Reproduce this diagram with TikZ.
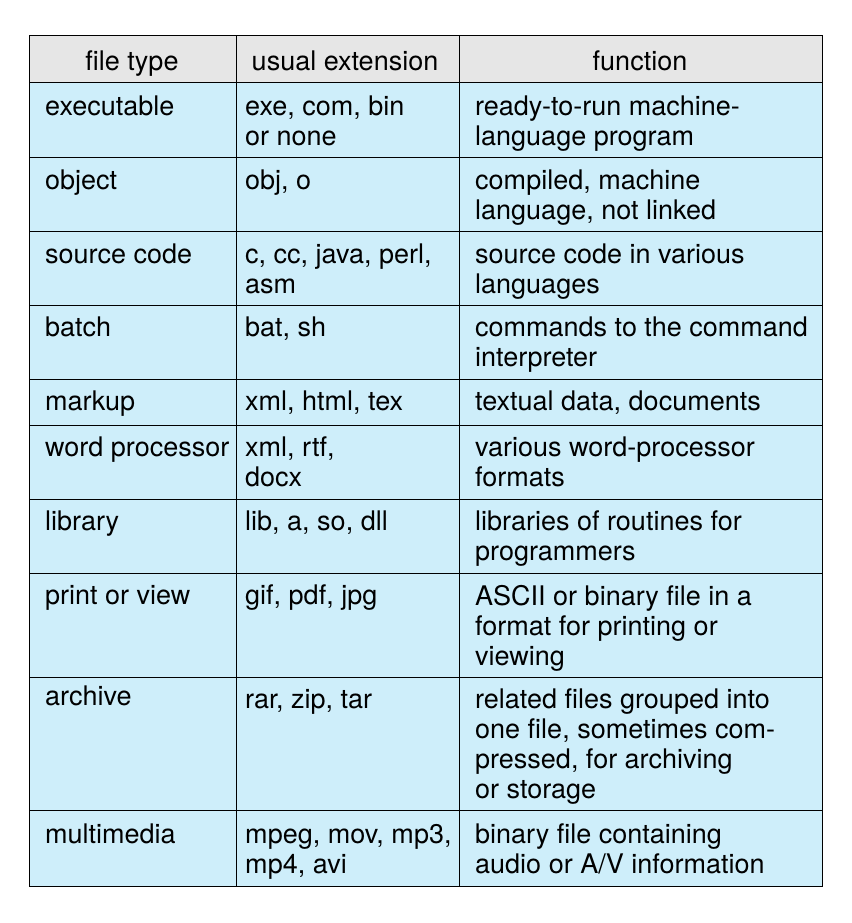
\documentclass[tikz,border=0pt]{standalone}
\usepackage{fontspec}
\setmainfont{TeX Gyre Heros}
\definecolor{cellblue}{RGB}{206,238,250}
\definecolor{headgray}{RGB}{230,230,230}
\begin{document}
\begin{tikzpicture}[x=1pt,y=-1pt,
		cell/.style={anchor=north west, inner sep=0pt, align=left, font=\fontsize{27}{30}\selectfont},
		head/.style={anchor=base, inner sep=0pt, font=\fontsize{27}{30}\selectfont}
		]
		\useasboundingbox (0,0) rectangle (851,923);
		
		% Backgrounds
		\fill[headgray] (29,36) rectangle (822,83);
		\fill[cellblue] (29,83) rectangle (822,886);
		
		% Grid
		\draw[line width=1pt] (29,36) rectangle (822,886);
		\draw[line width=1pt] (236,36) -- (236,886) (459,36) -- (459,886);
		\foreach \y in {83,157,231,305,379,425,499,573,677,810}
		\draw[line width=1pt] (29,\y) -- (822,\y);
		
		% Header
		\node[head] (h-type) at (132,71) {file type};
		\node[head] (h-ext) at (345,71) {usual extension};
		\node[head] (h-fun) at (640,71) {function};
		
		% Rows
		\node[cell] (t1) at (45,96) {executable};
		\node[cell] (e1) at (245,96) {exe, com, bin\\or none};
		\node[cell] (f1) at (475,96) {ready-to-run machine-\\language program};
		
		\node[cell] (t2) at (45,170) {object};
		\node[cell] (e2) at (245,170) {obj, o};
		\node[cell] (f2) at (475,170) {compiled, machine\\language, not linked};
		
		\node[cell] (t3) at (45,244) {source code};
		\node[cell] (e3) at (245,244) {c, cc, java, perl,\\asm};
		\node[cell] (f3) at (475,244) {source code in various\\languages};
		
		\node[cell] (t4) at (45,317) {batch};
		\node[cell] (e4) at (245,317) {bat, sh};
		\node[cell] (f4) at (475,317) {commands to the command\\interpreter};
		
		\node[cell] (t5) at (45,391) {markup};
		\node[cell] (e5) at (245,391) {xml, html, tex};
		\node[cell] (f5) at (475,391) {textual data, documents};
		
		\node[cell] (t6) at (45,437) {word processor};
		\node[cell] (e6) at (245,437) {xml, rtf,\\docx};
		\node[cell] (f6) at (475,437) {various word-processor\\formats};
		
		\node[cell] (t7) at (45,511) {library};
		\node[cell] (e7) at (245,511) {lib, a, so, dll};
		\node[cell] (f7) at (475,511) {libraries of routines for\\programmers};
		
		\node[cell] (t8) at (45,585) {print or view};
		\node[cell] (e8) at (245,585) {gif, pdf, jpg};
		\node[cell] (f8) at (475,585) {ASCII or binary file in a\\format for printing or\\viewing};
		
		\node[cell] (t9) at (45,686) {archive};
		\node[cell] (e9) at (245,689) {rar, zip, tar};
		\node[cell] (f9) at (475,689) {related files grouped into\\one file, sometimes com-\\pressed, for archiving\\or storage};
		
		\node[cell] (t10) at (45,824) {multimedia};
		\node[cell] (e10) at (245,824) {mpeg, mov, mp3,\\mp4, avi};
		\node[cell] (f10) at (475,824) {binary file containing\\audio or A/V information};
	\end{tikzpicture}
\end{document}
